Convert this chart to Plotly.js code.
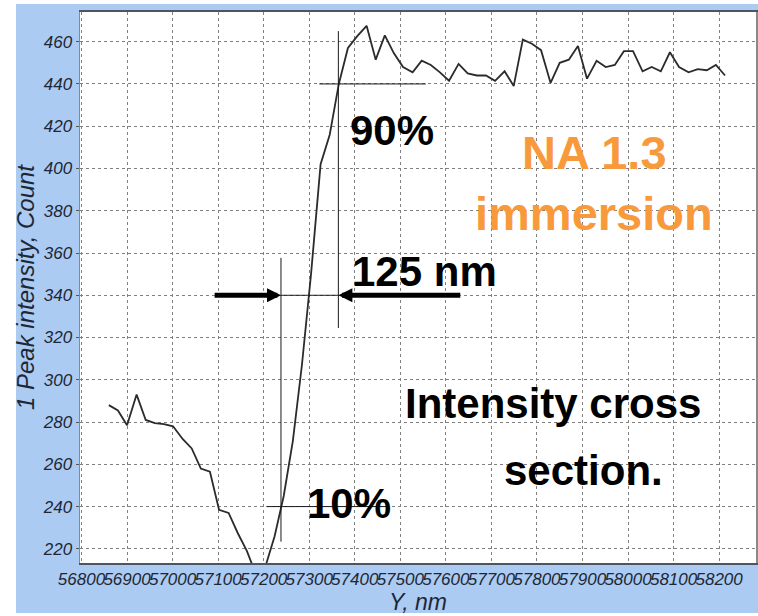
<!DOCTYPE html>
<html>
<head>
<meta charset="utf-8">
<script src="https://cdn.plot.ly/plotly-3.0.1.min.js"></script>
<style>html,body{margin:0;padding:0;background:#fff;}#chart{width:758px;height:616px;}</style>
</head>
<body>
<div id="chart"></div>
<script>
// Position along Y, nm
const positionNm = [56860, 56880, 56900, 56921, 56941, 56961, 56981, 57001, 57022, 57042,
  57062, 57082, 57102, 57123, 57143, 57163, 57183, 57203, 57224, 57244,
  57264, 57284, 57304, 57325, 57345, 57365, 57385, 57405, 57426, 57446,
  57466, 57486, 57506, 57527, 57547, 57567, 57587, 57607, 57628, 57648,
  57668, 57688, 57708, 57729, 57749, 57769, 57789, 57809, 57830, 57850,
  57870, 57890, 57910, 57931, 57951, 57971, 57991, 58011, 58032, 58052,
  58072, 58092, 58112, 58133, 58153, 58173, 58193, 58213];
// 1 Peak intensity, Count
const peakIntensity = [288, 285.5, 278.5, 293, 281, 279.5, 279, 278, 272, 267.5,
  258, 256.5, 238.5, 237, 227.5, 219, 208, 211, 226, 245,
  271, 307, 350, 402, 416, 440, 457, 462.5, 467.5, 451.5,
  463, 454.5, 448, 445.5, 451, 449, 445.5, 441.5, 449.5, 445,
  444, 444, 441.5, 446, 439, 461, 459, 456, 440.5, 450,
  451.5, 458, 442.5, 451, 448, 449, 455.5, 455.5, 446, 448,
  446, 455, 448, 445.5, 447, 446.5, 449, 444];

const xTickVals = [56800, 56900, 57000, 57100, 57200, 57300, 57400, 57500, 57600, 57700, 57800, 57900, 58000, 58100, 58200];
const yTickVals = [220, 240, 260, 280, 300, 320, 340, 360, 380, 400, 420, 440, 460];

// marker levels (10% / 90%) and their positions
const level10 = 240, level90 = 440, levelMid = 340;
const pos10 = 57238, pos90 = 57364;

const FONT = '"Liberation Sans", Arial, sans-serif';
const tickColor = '#1e2735';

const trace = {
  x: positionNm, y: peakIntensity, type: 'scatter', mode: 'lines',
  line: {color: '#2b2b2b', width: 1.8}, hoverinfo: 'x+y', showlegend: false
};

const thin = {color: '#1a1a1a', width: 1};
const shapes = [
  {type: 'rect', xref: 'paper', yref: 'paper', x0: -0.0947, x1: 1.003, y0: -0.0907, y1: 1.0145,
   fillcolor: '#abcbf2', line: {width: 0}, layer: 'below'},
  {type: 'rect', xref: 'paper', yref: 'paper', x0: 0, x1: 1, y0: 0, y1: 1,
   fillcolor: '#ffffff', line: {width: 0}, layer: 'below'},
  {type: 'line', xref: 'x', yref: 'y', x0: 57322, x1: 57556, y0: level90, y1: level90, line: thin},
  {type: 'line', xref: 'x', yref: 'y', x0: pos90, x1: pos90, y0: 324.5, y1: 465, line: thin},
  {type: 'line', xref: 'x', yref: 'y', x0: pos10, x1: pos10, y0: 223.4, y1: 357.7, line: thin},
  {type: 'line', xref: 'x', yref: 'y', x0: 57207, x1: 57473, y0: level10, y1: level10, line: thin},
  {type: 'line', xref: 'x', yref: 'y', x0: pos10, x1: pos90, y0: levelMid, y1: levelMid, line: thin}
];

const bold = (size, color) => ({family: FONT, size: size, color: color, weight: 'bold'});
const annotations = [
  {x: pos10, y: levelMid, ax: 57089, ay: levelMid, axref: 'x', ayref: 'y', xref: 'x', yref: 'y',
   text: '', showarrow: true, arrowhead: 2, arrowsize: 0.56, arrowwidth: 5, arrowcolor: '#000', standoff: 0},
  {x: pos90, y: levelMid, ax: 57635, ay: levelMid, axref: 'x', ayref: 'y', xref: 'x', yref: 'y',
   text: '', showarrow: true, arrowhead: 2, arrowsize: 0.56, arrowwidth: 5, arrowcolor: '#000', standoff: 0},
  {x: 57385, y: 418.2, xref: 'x', yref: 'y', text: '<b>90%</b>', showarrow: false,
   xanchor: 'left', yanchor: 'middle', font: bold(42, '#000')},
  {x: 57389, y: 351.3, xref: 'x', yref: 'y', text: '<b>125 nm</b>', showarrow: false,
   xanchor: 'left', yanchor: 'middle', font: bold(42, '#000')},
  {x: 57290, y: 241.5, xref: 'x', yref: 'y', text: '<b>10%</b>', showarrow: false,
   xanchor: 'left', yanchor: 'middle', font: bold(42, '#000')},
  {x: 57926, y: 407.6, xref: 'x', yref: 'y', text: '<b>NA 1.3</b>', showarrow: false,
   xanchor: 'center', yanchor: 'middle', font: bold(47, '#f89a3c')},
  {x: 57926, y: 378.9, xref: 'x', yref: 'y', text: '<b>immersion</b>', showarrow: false,
   xanchor: 'center', yanchor: 'middle', font: bold(47, '#f89a3c')},
  {x: 57835, y: 288.6, xref: 'x', yref: 'y', text: '<b>Intensity cross</b>', showarrow: false,
   xanchor: 'center', yanchor: 'middle', font: bold(42, '#000')},
  {x: 57903, y: 257.3, xref: 'x', yref: 'y', text: '<b>section.</b>', showarrow: false,
   xanchor: 'center', yanchor: 'middle', font: bold(42, '#000')}
];

const layout = {
  width: 758, height: 616,
  margin: {l: 80, r: 2, t: 12, b: 53, pad: 0},
  paper_bgcolor: '#ffffff', plot_bgcolor: '#ffffff',
  font: {family: FONT},
  showlegend: false,
  xaxis: {
    range: [56796.7, 58281], tickmode: 'array', tickvals: xTickVals,
    ticktext: xTickVals.map(v => '<i>' + v + '</i>'), tickangle: 0,
    tickfont: {family: FONT, size: 17, color: tickColor},
    ticks: '', showgrid: true, gridcolor: '#808080', griddash: 'dot', gridwidth: 1,
    zeroline: false, showline: true, mirror: true, linecolor: '#4d5563', linewidth: 2,
    title: {text: '<i>Y, nm</i>', font: {family: FONT, size: 23, color: tickColor}, standoff: 3}
  },
  yaxis: {
    range: [213.3, 474.05], tickmode: 'array', tickvals: yTickVals,
    ticktext: yTickVals.map(v => '<i>' + v + '</i>'),
    tickfont: {family: FONT, size: 17, color: tickColor},
    ticks: 'outside', ticklen: 3, tickcolor: '#555', tickwidth: 1,
    showgrid: true, gridcolor: '#808080', griddash: 'dot', gridwidth: 1,
    zeroline: false, showline: true, mirror: true, linecolor: '#8a8a8a', linewidth: 1.5,
    title: {text: '<i>1 Peak intensity, Count</i>', font: {family: FONT, size: 24, color: tickColor}, standoff: 1}
  },
  shapes: shapes,
  annotations: annotations
};

Plotly.newPlot('chart', [trace], layout, {displayModeBar: false, staticPlot: true});
</script>
</body>
</html>
